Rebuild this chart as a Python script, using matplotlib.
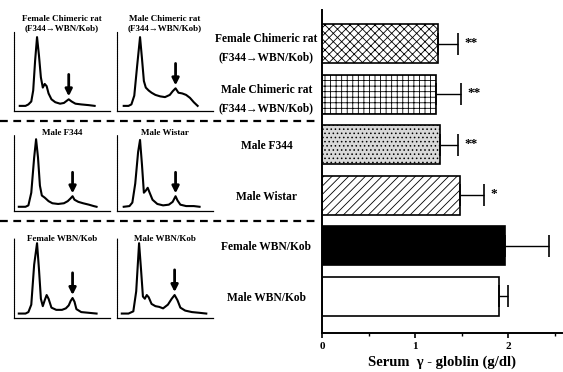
import numpy as np
import matplotlib
matplotlib.use('Agg')
import matplotlib.pyplot as plt
from matplotlib.lines import Line2D

plt.rcParams['font.family'] = ['Liberation Serif', 'DejaVu Serif']
plt.rcParams['font.weight'] = 'bold'
plt.rcParams['hatch.linewidth'] = 0.6

# ---------------- bar chart data ----------------
groups = ['Female Chimeric rat\n(F344\u2192WBN/Kob)',
          'Male Chimeric rat\n(F344\u2192WBN/Kob)',
          'Male F344',
          'Male Wistar',
          'Female WBN/Kob',
          'Male WBN/Kob']
gamma_mean = [1.25, 1.23, 1.27, 1.48, 1.97, 1.90]
gamma_sd = [0.21, 0.26, 0.19, 0.26, 0.47, 0.10]
signif = ['**', '**', '**', '*', '', '']
xticks_major = [0, 1, 2]
xticks_minor = [0.5, 1.5, 2.5]

# ---------------- densitometry traces (panel %, height %) ----------------
trace_titles = ['Female Chimeric rat\n(F344\u2192WBN/Kob)',
                'Male Chimeric rat\n(F344\u2192WBN/Kob)',
                'Male F344', 'Male Wistar',
                'Female WBN/Kob', 'Male WBN/Kob']
tr1_x = [6, 12, 15, 18, 20, 22, 24, 26, 28, 30, 32, 34, 36, 39, 43, 48, 52, 55, 57, 60, 64, 70, 78, 84]
tr1_y = [3, 3, 5, 9, 24, 65, 97, 72, 42, 28, 33, 30, 20, 12, 8, 6, 7, 10, 12, 9, 6, 5, 4, 3]
tr2_x = [7, 12, 15, 18, 21, 24, 26, 28, 30, 33, 36, 40, 45, 50, 55, 58, 61, 64, 68, 72, 76, 80, 84]
tr2_y = [3, 3, 5, 17, 58, 97, 68, 37, 28, 24, 21, 18, 16, 15, 18, 23, 27, 21, 20, 18, 14, 8, 3]
tr3_x = [5, 12, 15, 18, 21, 23, 25, 27, 29, 32, 36, 40, 46, 52, 56, 59, 61, 63, 67, 72, 78, 83, 86]
tr3_y = [2, 2, 4, 22, 72, 98, 72, 32, 18, 15, 10, 7, 6, 7, 10, 14, 17, 12, 9, 7, 5, 3, 2]
tr4_x = [7, 13, 16, 19, 22, 24, 26, 28, 30, 32, 34, 37, 42, 48, 54, 58, 61, 63, 66, 72, 80, 86]
tr4_y = [2, 3, 8, 35, 80, 97, 62, 22, 25, 29, 22, 12, 6, 4, 5, 9, 17, 11, 5, 3, 3, 2]
tr5_x = [5, 12, 15, 18, 21, 24, 26, 28, 30, 32, 34, 36, 39, 44, 50, 54, 57, 59, 61, 63, 65, 70, 78, 86]
tr5_y = [2, 2, 4, 14, 68, 97, 62, 22, 12, 20, 27, 22, 10, 7, 7, 9, 13, 19, 23, 18, 8, 4, 3, 2]
tr6_x = [5, 12, 17, 20, 23, 25, 27, 29, 31, 33, 36, 40, 44, 48, 53, 57, 60, 63, 66, 71, 78, 86, 93]
tr6_y = [2, 2, 5, 32, 97, 62, 25, 22, 27, 24, 15, 12, 11, 9, 14, 22, 27, 20, 10, 6, 4, 3, 2]
traces_x = [tr1_x, tr2_x, tr3_x, tr4_x, tr5_x, tr6_x]
traces_y = [tr1_y, tr2_y, tr3_y, tr4_y, tr5_y, tr6_y]
arrow_x = [57, 61, 61, 61, 61, 60]
arrow_y = [12, 27, 17, 17, 23, 27]

# ---------------- figure ----------------
W, H = 563, 372
fig = plt.figure(figsize=(W / 100, H / 100), dpi=100)


def px_axes(x0, y0, x1, y1):
    return fig.add_axes([x0 / W, 1 - y1 / H, (x1 - x0) / W, (y1 - y0) / H])


# small trace panels: (x0, top, x1, bottom) in pixels, title centre y
panel_box = [(14, 32, 110, 111), (117, 32, 213, 111),
             (14, 135, 110, 211), (117, 135, 213, 211),
             (14, 238, 110, 318), (117, 238, 213, 318)]
title_y = [24, 24, 133, 133, 239, 239]

for i in range(6):
    x0, y0, x1, y1 = panel_box[i]
    a = px_axes(x0, y0, x1, y1)
    a.plot(traces_x[i], traces_y[i], color='black', lw=1.5, solid_joinstyle='round')
    a.annotate('', xy=(arrow_x[i], arrow_y[i] + 4), xytext=(arrow_x[i], arrow_y[i] + 34),
               arrowprops=dict(arrowstyle='-|>', color='black', lw=2.0,
                               mutation_scale=10, shrinkA=0, shrinkB=0))
    a.set_xlim(0, 100)
    a.set_ylim(-4, 104)
    a.set_xticks([])
    a.set_yticks([])
    for s in ['top', 'right']:
        a.spines[s].set_visible(False)
    a.spines['left'].set_linewidth(0.8)
    a.spines['bottom'].set_linewidth(0.9)
    a.spines['left'].set_linestyle((0, (1, 0.6)))
    ty = 1 + (y0 - title_y[i]) / (y1 - y0)
    a.text(0.5, ty, trace_titles[i], transform=a.transAxes, ha='center', va='center',
           fontsize=6.5, fontweight='bold', linespacing=1.2, clip_on=False)

# dashed separators
for yy in [121, 221]:
    fig.add_artist(Line2D([0, 318 / W], [1 - yy / H, 1 - yy / H], color='black',
                          lw=1.6, dashes=(3.5, 2.5), transform=fig.transFigure))

# bar chart
ax = px_axes(322, 10, 562, 333)
pos = np.arange(len(groups))[::-1]
bars = ax.barh(pos, gamma_mean, height=0.77, edgecolor='black', linewidth=1.2, color='white')
faces = ['white', 'white', '#d8d8d8', 'white', 'black', 'white']
hatches = ['xxxx', '+++', '....', '////', None, None]
for b, fc, h in zip(bars, faces, hatches):
    b.set_facecolor(fc)
    if h:
        b.set_hatch(h)
ax.errorbar(gamma_mean, pos, xerr=[np.zeros(len(pos)), gamma_sd], fmt='none',
            ecolor='black', elinewidth=1.0, capsize=8, capthick=1.2)
for m, s, p, sig in zip(gamma_mean, gamma_sd, pos, signif):
    if sig:
        ax.text(m + s + 0.07, p + 0.02, sig, ha='left', va='center', fontsize=9.5, fontweight='bold')

ax.set_xlim(0, 2.58)
ax.set_ylim(-0.73, 5.67)
ax.set_xticks(xticks_major)
ax.set_xticks(xticks_minor, minor=True)
ax.set_xticklabels([str(v) for v in xticks_major], fontsize=8, fontweight='bold')
ax.tick_params(axis='x', which='major', direction='out', length=3.5, width=1.2, pad=3)
ax.tick_params(axis='x', which='minor', direction='out', length=2.5, width=1.0)
ax.set_yticks(pos)
ax.set_yticklabels(groups, fontsize=8.3, fontweight='bold', linespacing=1.7)
ax.tick_params(axis='y', length=0, pad=40)
for lab in ax.get_yticklabels():
    lab.set_horizontalalignment('center')
for s in ['top', 'right']:
    ax.spines[s].set_visible(False)
ax.spines['left'].set_linewidth(1.4)
ax.spines['bottom'].set_linewidth(1.4)
ax.set_xlabel('Serum  \u03b3 - globlin (g/dl)', fontsize=10.5, fontweight='bold', labelpad=3)

fig.savefig('out.png', dpi=100)
